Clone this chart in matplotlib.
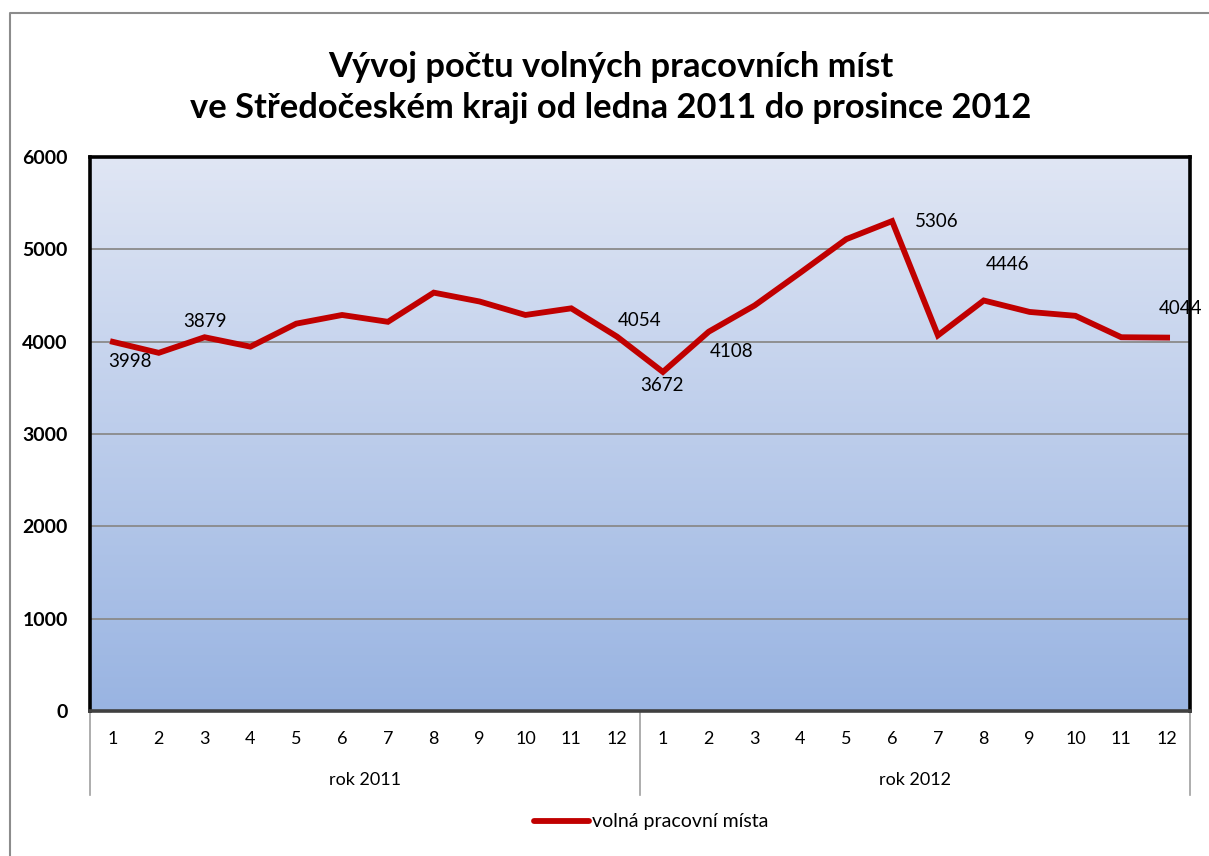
import numpy as np
import matplotlib.pyplot as plt
from matplotlib.lines import Line2D

# --- data ---
years = ["rok 2011", "rok 2012"]
months = [str(m) for m in range(1, 13)]
mista_2011 = [3998, 3879, 4048, 3946, 4195, 4289, 4215, 4531, 4435, 4289, 4361, 4054]
mista_2012 = [3672, 4108, 4392, 4748, 5110, 5306, 4068, 4446, 4322, 4280, 4048, 4044]
series_name = "volná pracovní místa"

# labels shown in the chart: (index, value, text x, text y)
label_idx = [0, 1, 11, 12, 13, 17, 19, 23]
label_pos = [(0.37, 3780), (2.0, 4215), (11.48, 4225), (11.99, 3520),
             (13.5, 3890), (17.97, 5298), (19.52, 4832), (23.3, 4355)]

values = mista_2011 + mista_2012
x = np.arange(len(values))

plt.rcParams["font.family"] = ["Lato", "DejaVu Sans"]

fig = plt.figure(figsize=(12.09, 8.56), dpi=100)
ax = fig.add_axes([90 / 1209, 1 - 711 / 856, 1100 / 1209, 554 / 856])

# gradient background
grad = np.linspace(0, 1, 256).reshape(-1, 1)
top = np.array([0.878, 0.902, 0.957])
bot = np.array([0.600, 0.706, 0.886])
img = top + (bot - top) * grad[..., None] * np.ones((1, 2, 1))
ax.imshow(img, extent=[0, 1, 0, 1], transform=ax.transAxes, aspect="auto",
          zorder=0, origin="upper")

ax.set_xlim(-0.5, len(values) - 0.5)
ax.set_ylim(0, 6000)
ax.set_yticks(range(0, 7000, 1000))
ax.set_yticklabels([str(v) for v in range(0, 7000, 1000)], fontweight="bold", fontsize=14)
ax.tick_params(axis="y", length=0, pad=16)
ax.set_xticks([])
for v in range(1000, 6000, 1000):
    ax.axhline(v, color="#8a8a8a", lw=1.3, zorder=1)

for s in ["left", "top", "right"]:
    ax.spines[s].set_linewidth(2.6)
    ax.spines[s].set_color("black")
ax.spines["bottom"].set_linewidth(2.6)
ax.spines["bottom"].set_color("#404040")

ax.plot(x, values, color="#C00000", lw=4.2, solid_joinstyle="miter", zorder=3)

for i, (tx, ty) in zip(label_idx, label_pos):
    ax.text(tx, ty, str(values[i]), fontsize=13.5, ha="center", va="center",
            zorder=4, clip_on=False)

# two-level category axis
trans = ax.get_xaxis_transform()
for i, m in enumerate(months * 2):
    ax.text(i, -0.05, m, transform=trans, ha="center", va="center", fontsize=13)
for j, yr in enumerate(years):
    ax.text(j * 12 + 5.5, -0.125, yr, transform=trans, ha="center", va="center", fontsize=13)
for b in [-0.5, 11.5, 23.5]:
    ax.add_line(Line2D([b, b], [0, -0.152], transform=trans, color="#a0a0a0",
                       lw=1.2, clip_on=False))

# title
fig.text(0.505, 1 - 67 / 856, "Vývoj počtu volných pracovních míst", ha="center",
         va="center", fontsize=24.8, fontweight="bold")
fig.text(0.505, 1 - 108 / 856, "ve Středočeském kraji od ledna 2011 do prosince 2012",
         ha="center", va="center", fontsize=24.8, fontweight="bold")

# legend
fig.add_artist(Line2D([534 / 1209, 589 / 1209], [1 - 821 / 856] * 2, color="#C00000",
                      lw=4.2, solid_capstyle="round"))
fig.text(592 / 1209, 1 - 821 / 856, series_name, ha="left", va="center", fontsize=14)

# outer chart frame
fig.add_artist(Line2D([10 / 1209, 10 / 1209, 1.0], [0, 1 - 13 / 856, 1 - 13 / 856],
                      color="#8c8c8c", lw=1.5))

fig.savefig("out.png", dpi=100)
